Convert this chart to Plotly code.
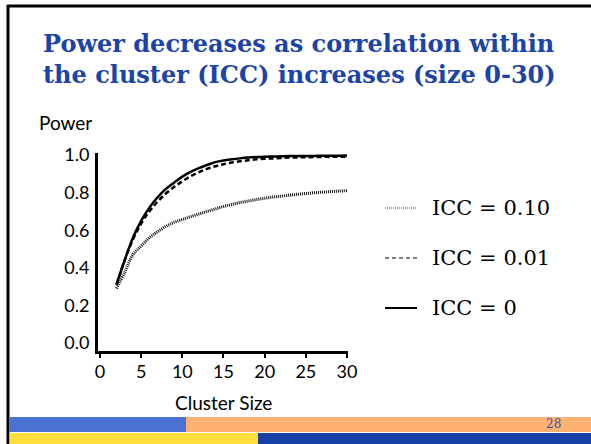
import plotly.graph_objects as go

# ---- data ----
cluster_size = list(range(2, 31))
power_icc_0 = [0.31, 0.44, 0.56, 0.65, 0.72, 0.775, 0.82, 0.853, 0.885, 0.91, 0.93, 0.947,
               0.962, 0.971, 0.977, 0.982, 0.986, 0.989, 0.991, 0.992, 0.993, 0.994, 0.994,
               0.995, 0.995, 0.996, 0.996, 0.996, 0.997]
power_icc_001 = [0.31, 0.44, 0.55, 0.635, 0.70, 0.752, 0.795, 0.83, 0.86, 0.887, 0.908, 0.926,
                 0.94, 0.951, 0.96, 0.967, 0.972, 0.977, 0.98, 0.982, 0.984, 0.986, 0.987,
                 0.988, 0.989, 0.99, 0.99, 0.991, 0.991]
power_icc_010 = [0.29, 0.375, 0.47, 0.515, 0.56, 0.592, 0.62, 0.642, 0.657, 0.672, 0.686, 0.70,
                 0.713, 0.726, 0.737, 0.747, 0.755, 0.763, 0.77, 0.776, 0.781, 0.786, 0.791,
                 0.795, 0.799, 0.802, 0.805, 0.808, 0.81]
x_ticks = [0, 5, 10, 15, 20, 25, 30]
y_ticks = [0.0, 0.2, 0.4, 0.6, 0.8, 1.0]
legend_labels = ["ICC = 0.10", "ICC = 0.01", "ICC = 0"]
title_lines = ["Power decreases as correlation within",
               "the cluster (ICC) increases (size 0-30)"]
page_number = "28"

W, H = 591, 444


def px(x):
    return x / W


def py(y):
    return 1 - y / H


SANS = "Lato"
SERIF = "DejaVu Serif"
TITLE_BLUE = "#1C43A8"

fig = go.Figure()
fig.add_trace(go.Scatter(x=cluster_size, y=power_icc_010, mode="lines",
                         line=dict(color="#111111", width=3, dash="1px,1px", shape="spline"),
                         showlegend=False, hoverinfo="skip"))
fig.add_trace(go.Scatter(x=cluster_size, y=power_icc_001, mode="lines",
                         line=dict(color="black", width=2.5, dash="5px,3px", shape="spline"),
                         showlegend=False, hoverinfo="skip"))
fig.add_trace(go.Scatter(x=cluster_size, y=power_icc_0, mode="lines",
                         line=dict(color="black", width=2.5, shape="spline"),
                         showlegend=False, hoverinfo="skip"))

fig.update_layout(
    template="none",
    width=W, height=H,
    margin=dict(l=0, r=0, t=0, b=0),
    paper_bgcolor="white", plot_bgcolor="white",
    showlegend=False,
    xaxis=dict(domain=[px(98), px(348)], range=[-0.24, 30.12], showgrid=False, zeroline=False,
               showline=True, linewidth=3, linecolor="black", ticks="outside", ticklen=4,
               tickwidth=2, tickcolor="black", tickvals=x_ticks, automargin=False,
               ticklabelstandoff=-2,
               tickfont=dict(family=SANS, size=18, color="black")),
    yaxis=dict(domain=[py(351), py(153)], range=[-0.0426, 1.0106], showgrid=False, zeroline=False,
               showline=True, linewidth=3, linecolor="black", ticks="", tickvals=y_ticks,
               tickformat=".1f", automargin=False, ticklabelstandoff=2,
               tickfont=dict(family=SANS, size=18, color="black")),
)

shapes = []
# slide border
shapes.append(dict(type="line", xref="paper", yref="paper", x0=px(8), x1=px(8), y0=py(5), y1=py(444),
                   line=dict(color="black", width=3)))
shapes.append(dict(type="line", xref="paper", yref="paper", x0=px(7), x1=px(591), y0=py(6), y1=py(6),
                   line=dict(color="black", width=3)))
# footer bars
for (x0, x1, y0, y1, c) in [(9.5, 186, 417, 432, "#4A72D3"), (186, 591, 417, 432, "#FFB174"),
                            (9.5, 258, 433, 444, "#FFDE3C"), (258, 591, 433, 444, "#1640A6")]:
    shapes.append(dict(type="rect", xref="paper", yref="paper", x0=px(x0), x1=px(x1),
                       y0=py(y1), y1=py(y0), fillcolor=c, line=dict(width=0), layer="above"))
# legend samples
shapes.append(dict(type="line", xref="paper", yref="paper", x0=px(385), x1=px(417), y0=py(208), y1=py(208),
                   line=dict(color="#444", width=1.2, dash="1px,1px")))
shapes.append(dict(type="line", xref="paper", yref="paper", x0=px(385), x1=px(417), y0=py(258), y1=py(258),
                   line=dict(color="black", width=1.2, dash="4px,3px")))
shapes.append(dict(type="line", xref="paper", yref="paper", x0=px(385), x1=px(417), y0=py(308), y1=py(308),
                   line=dict(color="black", width=2)))
fig.update_layout(shapes=shapes)

ann = []
for i, (t, yc) in enumerate(zip(title_lines, [44, 75])):
    ann.append(dict(text="<b>" + t + "</b>", xref="paper", yref="paper", x=px(41), y=py(yc),
                    xanchor="left", yanchor="middle", showarrow=False,
                    font=dict(family=SERIF, size=24, color=TITLE_BLUE)))
for t, yc in zip(legend_labels, [208, 258, 308]):
    ann.append(dict(text=t, xref="paper", yref="paper", x=px(430), y=py(yc),
                    xanchor="left", yanchor="middle", showarrow=False,
                    font=dict(family=SERIF, size=21, color="black")))
ann.append(dict(text="Power", xref="paper", yref="paper", x=px(37), y=py(123),
                xanchor="left", yanchor="middle", showarrow=False,
                font=dict(family=SANS, size=19, color="black")))
ann.append(dict(text="Cluster Size", xref="paper", yref="paper", x=px(223), y=py(402),
                xanchor="center", yanchor="middle", showarrow=False,
                font=dict(family=SANS, size=19, color="black")))
ann.append(dict(text=page_number, xref="paper", yref="paper", x=px(553), y=py(424),
                xanchor="center", yanchor="middle", showarrow=False,
                font=dict(family=SERIF, size=12, color="#2F4EA8")))
fig.update_layout(annotations=ann)

fig.write_html("out.html", config={"displayModeBar": False},
               post_script="document.body.style.margin='0';document.body.style.overflow='hidden';")
